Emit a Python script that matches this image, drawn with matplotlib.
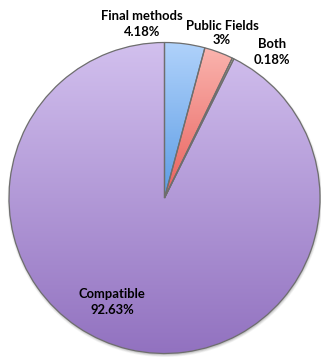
import numpy as np
import matplotlib.pyplot as plt
from matplotlib.colors import LinearSegmentedColormap
from matplotlib.patches import Circle

# Share of methods per category
labels = ['Final methods', 'Public Fields', 'Both', 'Compatible']
shares = [4.18, 3, 0.18, 92.63]
pct_text = ['4.18%', '3%', '0.18%', '92.63%']

# top / bottom colours of each slice's gradient
top_colors = ['#b0d2fb', '#fab4ae', '#eef2b8', '#d2c0ee']
bottom_colors = ['#5c9ce4', '#e8605c', '#c8d488', '#9272c0']

W, H = 321, 357
fig = plt.figure(figsize=(W / 100, H / 100), dpi=100)
ax = fig.add_axes([0, 0, 1, 1])

cx, cy, r = 164.5, H - 198, 155.5

# soft shadow under the pie
for k, a in zip(range(4), [0.06, 0.08, 0.10, 0.14]):
    ax.add_patch(Circle((cx + 0.5, cy - 1.5), r + 2 - k * 0.7, color='#505050',
                        alpha=a, lw=0, zorder=0))

wedges, _ = ax.pie(shares, center=(cx, cy), radius=r, startangle=90,
                   counterclock=False, frame=True,
                   wedgeprops=dict(edgecolor='#6e6e6e', linewidth=0.9))

# vertical gradient fill clipped to each wedge
grad = np.linspace(0, 1, 256).reshape(-1, 1)
for w, c0, c1 in zip(wedges, top_colors, bottom_colors):
    w.set_facecolor('none')
    w.set_zorder(3)
    bb = w.get_path().get_extents(w.get_patch_transform())
    cmap = LinearSegmentedColormap.from_list('g', [c1, c0])
    im = ax.imshow(grad, cmap=cmap, origin='lower', aspect='auto',
                   extent=[bb.x0, bb.x1, bb.y0, bb.y1], zorder=2,
                   interpolation='bilinear')
    im.set_clip_path(w)

ax.set_xlim(0, W)
ax.set_ylim(0, H)
ax.set_aspect('equal')
ax.axis('off')

font = dict(family='Lato', fontweight='bold', fontsize=9.4, color='black',
            ha='center', va='center', linespacing=1.3)
label_pos = [(142, 24), (222, 33), (272, 52), (112, 302)]
for lab, pct, (x, y) in zip(labels, pct_text, label_pos):
    ax.text(x, H - y, f'{lab}\n{pct}', **font)

fig.savefig('out.png', dpi=100)
